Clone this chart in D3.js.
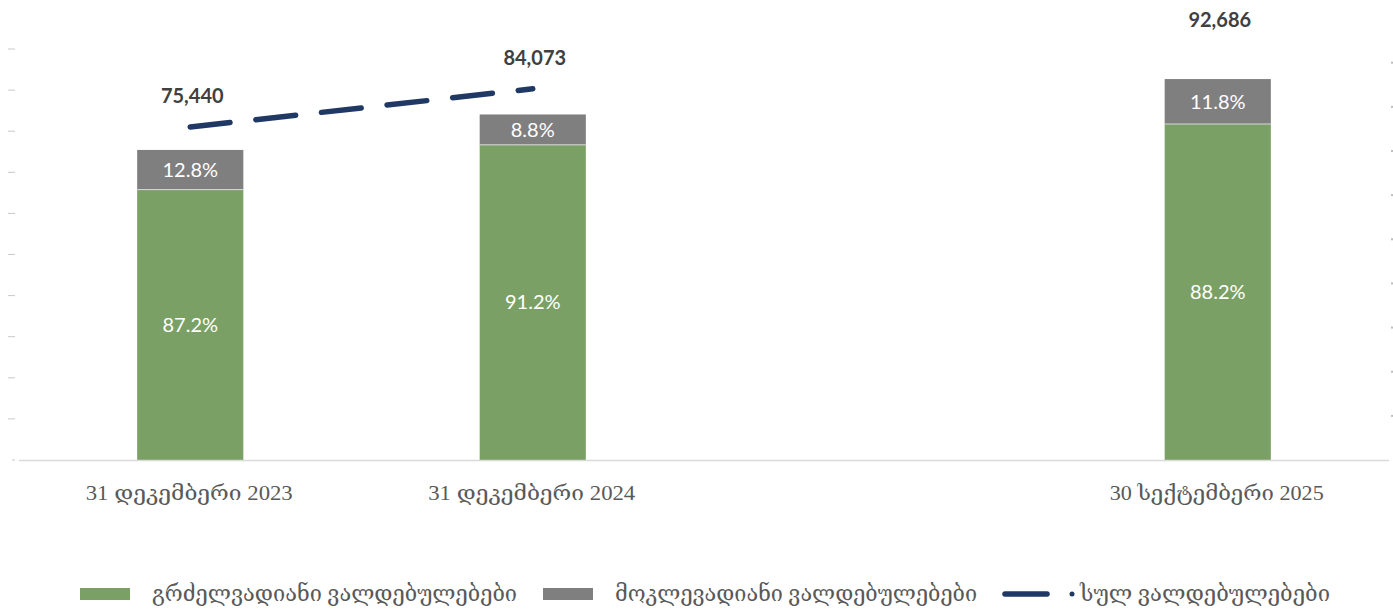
<!DOCTYPE html>
<html><head><meta charset="utf-8">
<script src="https://cdn.jsdelivr.net/npm/d3@7"></script>
<style>body{margin:0;background:#fff}svg{display:block}</style>
</head><body>
<svg id="c" width="1393" height="612"></svg>
<script>
const categories = ["31 დეკემბერი 2023", "31 დეკემბერი 2024", "", "30 სექტემბერი 2025"];
const longTerm = [65784, 76675, null, 81749];
const shortTerm = [9656, 7398, null, 10937];
const totals = [75440, 84073, null, 92686];
const leftTicks = [0,10000,20000,30000,40000,50000,60000,70000,80000,90000,100000];
const rightTicks = [10000,20000,30000,40000,50000,60000,70000,80000,90000];
const seriesNames = ["გრძელვადიანი ვალდებულებები", "მოკლევადიანი ვალდებულებები", "სულ ვალდებულებები"];

const svg = d3.select("#c");
const x = d3.scaleBand().domain(d3.range(categories.length)).range([19, 1389]).paddingInner(0.69).paddingOuter(0.345);
const y = d3.scaleLinear().domain([0, 100000]).range([460, 49]);
const y2 = d3.scaleLinear().domain([0, 93100]).range([460, 49]);
const green = "#7ba065", grey = "#7f7f7f", navy = "#1f3864";
const numFont = "Lato, 'Open Sans', sans-serif";
const geoFont = "'Liberation Serif', 'DejaVu Serif', serif";

// fit Georgian text to the reference's rendered width
function fit(sel, w) {
  sel.each(function () {
    const n = this.getComputedTextLength();
    if (Math.abs(n - w) > 2) d3.select(this).attr("textLength", w).attr("lengthAdjust", "spacingAndGlyphs");
  });
}

// left axis tiny tick marks
svg.append("g").selectAll("line").data(leftTicks).join("line")
  .attr("x1", d => d === 0 ? 12 : 8).attr("x2", 15)
  .attr("y1", d => y(d)).attr("y2", d => y(d))
  .attr("stroke", "#c9c9c9").attr("stroke-width", 1);
// right axis tiny tick marks
svg.append("g").selectAll("rect").data(rightTicks).join("rect")
  .attr("x", 1391).attr("y", d => y2(d) - 1).attr("width", 2).attr("height", 2)
  .attr("fill", "#bdbdbd");

// bars
const idx = d3.range(categories.length).filter(i => longTerm[i] != null);
const g = svg.append("g");
idx.forEach(i => {
  const lt = longTerm[i], st = shortTerm[i], tot = lt + st;
  g.append("rect").attr("x", x(i)).attr("width", x.bandwidth())
    .attr("y", y(lt)).attr("height", y(0) - y(lt)).attr("fill", green);
  g.append("rect").attr("x", x(i)).attr("width", x.bandwidth())
    .attr("y", y(tot)).attr("height", y(lt) - y(tot)).attr("fill", grey);
  g.append("line").attr("x1", x(i)).attr("x2", x(i) + x.bandwidth())
    .attr("y1", y(lt)).attr("y2", y(lt)).attr("stroke", "#d9d9d9").attr("stroke-width", 1);
  const cx = x(i) + x.bandwidth() / 2;
  g.append("text").attr("x", cx).attr("y", (y(0) + y(lt)) / 2).attr("dy", "0.35em")
    .attr("text-anchor", "middle").attr("fill", "#fff")
    .style("font", `20px ${numFont}`).text(d3.format(".1%")(lt / tot));
  g.append("text").attr("x", cx).attr("y", (y(lt) + y(tot)) / 2).attr("dy", "0.35em")
    .attr("text-anchor", "middle").attr("fill", "#fff")
    .style("font", `20px ${numFont}`).text(d3.format(".1%")(st / tot));
});

// baseline
svg.append("line").attr("x1", 19).attr("x2", 1389).attr("y1", 460.5).attr("y2", 460.5)
  .attr("stroke", "#d9d9d9").attr("stroke-width", 1.5);

// total line (secondary axis)
const line = d3.line().defined(d => d.v != null)
  .x(d => x(d.i) + x.bandwidth() / 2).y(d => y2(d.v));
const lineData = totals.map((v, i) => ({i, v}));
svg.append("path").datum(lineData).attr("d", line)
  .attr("fill", "none").attr("stroke", navy).attr("stroke-width", 5.5)
  .attr("stroke-linecap", "round").attr("stroke-dasharray", "40 26");
// total labels
svg.append("g").selectAll("text").data(lineData.filter(d => d.v != null)).join("text")
  .attr("x", d => x(d.i) + x.bandwidth() / 2 + 2).attr("y", d => y2(d.v) - 31).attr("dy", "0.35em")
  .attr("text-anchor", "middle").attr("fill", "#404040")
  .style("font", `bold 20px ${numFont}`).text(d => d3.format(",")(d.v));

// category labels
const catW = {0: 207, 1: 207, 3: 214};
svg.append("g").selectAll("text").data(idx).join("text")
  .attr("x", i => x(i) + x.bandwidth() / 2 - 1).attr("y", 500)
  .attr("text-anchor", "middle").attr("fill", "#595959")
  .style("font", `21px ${geoFont}`).text(i => categories[i])
  .each(function (i) { fit(d3.select(this), catW[i]); });

// legend
const lg = svg.append("g");
lg.append("rect").attr("x", 80).attr("y", 588).attr("width", 50).attr("height", 12).attr("fill", green);
lg.append("text").attr("x", 152).attr("y", 601).attr("fill", "#595959")
  .style("font", `21.5px ${geoFont}`).text(seriesNames[0]).call(fit, 365);
lg.append("rect").attr("x", 543).attr("y", 588).attr("width", 50).attr("height", 12).attr("fill", grey);
lg.append("text").attr("x", 615).attr("y", 601).attr("fill", "#595959")
  .style("font", `21.5px ${geoFont}`).text(seriesNames[1]).call(fit, 362);
lg.append("line").attr("x1", 1005).attr("x2", 1047).attr("y1", 594).attr("y2", 594)
  .attr("stroke", navy).attr("stroke-width", 5.5).attr("stroke-linecap", "round");
lg.append("circle").attr("cx", 1072).attr("cy", 594).attr("r", 2.5).attr("fill", navy);
lg.append("text").attr("x", 1080).attr("y", 601).attr("fill", "#595959")
  .style("font", `21.5px ${geoFont}`).text(seriesNames[2]).call(fit, 250);
</script>
</body></html>
